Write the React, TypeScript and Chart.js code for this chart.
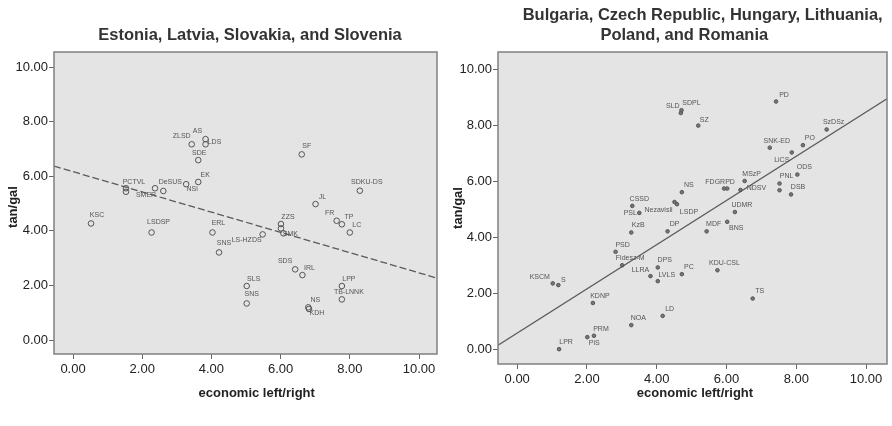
import React, { useEffect, useRef } from "react";
import { Chart, registerables } from "chart.js";

Chart.register(...registerables);

// ---------- data ----------
const TICK_VALUES = [0, 2, 4, 6, 8, 10];
const TICK_LABELS = ["0.00", "2.00", "4.00", "6.00", "8.00", "10.00"];

const LEFT_TITLE = ["Estonia, Latvia, Slovakia, and Slovenia"];
const RIGHT_TITLE = ["Bulgaria, Czech Republic, Hungary, Lithuania,", "Poland, and Romania"];
const X_TITLE = "economic left/right";
const Y_TITLE = "tan/gal";

const leftParties = [
  "KSC", "LSDSP", "PCTVL", "", "SMER", "DeSUS", "NSi", "ZLSD", "AS", "LDS", "SDE", "EK",
  "ERL", "SNS", "LS-HZDS", "ZZS", "", "SMK", "SF", "JL", "SDKU-DS", "FR", "TP", "LC",
  "SDS", "IRL", "SLS", "SNS", "NS", "KDH", "LPP", "TB-LNNK",
];
const leftX = [
  0.52, 2.27, 1.53, 1.53, 2.37, 2.61, 3.27, 3.43, 3.83, 3.83, 3.62, 3.62,
  4.03, 4.22, 5.48, 6.01, 6.01, 6.08, 6.61, 7.01, 8.29, 7.62, 7.77, 8.0,
  6.42, 6.63, 5.02, 5.02, 6.8, 6.82, 7.77, 7.77,
];
const leftY = [
  4.27, 3.94, 5.56, 5.43, 5.56, 5.46, 5.71, 7.17, 7.36, 7.17, 6.59, 5.79,
  3.94, 3.21, 3.87, 4.25, 4.09, 3.91, 6.8, 4.98, 5.47, 4.37, 4.24, 3.94,
  2.59, 2.38, 1.98, 1.34, 1.2, 1.14, 1.98, 1.49,
];
const leftFitX = [-0.55, 10.52];
const leftFitY = [6.37, 2.27];

const rightParties = [
  "SLD", "SDPL", "SZ", "PD", "SzDSz", "SNK-ED", "PO", "LiCS", "ODS", "PNL", "", "DSB",
  "MSzP", "NDSV", "FDGRPD", "", "NS", "Nezavisli", "LSDP", "CSSD", "PSL", "UDMR", "MDF", "BNS",
  "DP", "KzB", "PSD", "Fidesz-M", "DPS", "LLRA", "LVLS", "KSCM", "S", "KDNP", "NOA", "LD",
  "PRM", "PiS", "LPR", "KDU-CSL", "PC", "TS",
];
const rightX = [
  4.69, 4.71, 5.19, 7.42, 8.87, 7.24, 8.19, 7.87, 8.03, 7.52, 7.52, 7.85,
  6.52, 6.4, 5.93, 6.02, 4.72, 4.51, 4.58, 3.3, 3.5, 6.24, 5.43, 6.02,
  4.31, 3.27, 2.82, 3.01, 4.03, 3.82, 4.03, 1.02, 1.18, 2.17, 3.27, 4.17,
  2.2, 2.01, 1.2, 5.74, 4.72, 6.75,
];
const rightY = [
  8.45, 8.55, 8.0, 8.86, 7.86, 7.21, 7.3, 7.04, 6.25, 5.93, 5.69, 5.54,
  6.02, 5.7, 5.75, 5.75, 5.62, 5.27, 5.19, 5.13, 4.88, 4.91, 4.22, 4.56,
  4.22, 4.18, 3.49, 3.01, 2.93, 2.62, 2.44, 2.36, 2.3, 1.66, 0.87, 1.2,
  0.49, 0.44, 0.01, 2.83, 2.69, 1.82,
];
const rightFitX = [-0.55, 10.6];
const rightFitY = [0.15, 8.96];

// ---------- label placement (px, relative to marker) ----------
const DEFAULT_NUDGE: [number, number] = [7, -7];
const LEFT_NUDGE: Record<string, [number, number]> = {
  KSC: [6, -8], LSDSP: [7, -10], PCTVL: [8, -6], SMER: [-9, 7], DeSUS: [7, -9], NSi: [6, 5],
  ZLSD: [-10, -8], AS: [-8, -8], LDS: [9, -2], SDE: [1, -7], ERL: [6, -9], SNS: [5, -9],
  "LS-HZDS": [-16, 6], SMK: [7, 1], SF: [5, -8], "SDKU-DS": [7, -9], FR: [-7, -8],
  SDS: [-10, -8], KDH: [8, 4],
};
const RIGHT_NUDGE: Record<string, [number, number]> = {
  SLD: [-8, -7], SDPL: [10, -7], SZ: [6, -6], PD: [8, -6], LiCS: [-10, 8], NDSV: [16, -2],
  FDGRPD: [-4, -6], Nezavisli: [-16, 8], LSDP: [12, 8], PSL: [-9, 0], BNS: [9, 6],
  "Fidesz-M": [8, -7], LLRA: [-10, -6], LVLS: [9, -6], KSCM: [-13, -6], S: [5, -5], PiS: [7, 6],
};

const FONT = '"Liberation Sans", Arial, Helvetica, sans-serif';

type PanelCfg = {
  parties: string[];
  xs: number[];
  ys: number[];
  fitX: number[];
  fitY: number[];
  nudge: Record<string, [number, number]>;
  xRange: [number, number];
  yRange: [number, number];
  padding: { top: number; right: number; left: number; bottom: number };
  yWidth: number;
  xHeight: number;
  title: string[];
  titlePos: [number, number][];
  xTitlePos: [number, number];
  yTitlePos: [number, number];
  dashed: boolean;
  markerRadius: number;
  markerFill: string;
};

function makeConfig(p: PanelCfg): any {
  const decor = {
    id: "decor",
    beforeDraw(chart: any) {
      const { ctx, chartArea: a } = chart;
      ctx.save();
      ctx.fillStyle = "#e4e4e4";
      ctx.fillRect(a.left, a.top, a.right - a.left, a.bottom - a.top);
      ctx.restore();
    },
    afterDatasetsDraw(chart: any) {
      const { ctx } = chart;
      const sx = chart.scales.x;
      const sy = chart.scales.y;
      ctx.save();
      ctx.font = `7px ${FONT}`;
      ctx.fillStyle = "#555";
      ctx.textAlign = "center";
      ctx.textBaseline = "middle";
      p.parties.forEach((name, i) => {
        if (!name) return;
        const [dx, dy] = p.nudge[name] ?? DEFAULT_NUDGE;
        ctx.fillText(name, sx.getPixelForValue(p.xs[i]) + dx, sy.getPixelForValue(p.ys[i]) + dy);
      });
      ctx.restore();
    },
    afterDraw(chart: any) {
      const { ctx, chartArea: a } = chart;
      ctx.save();
      ctx.strokeStyle = "#808080";
      ctx.lineWidth = 1.5;
      ctx.strokeRect(a.left, a.top, a.right - a.left, a.bottom - a.top);
      ctx.fillStyle = "#333";
      ctx.textAlign = "center";
      ctx.textBaseline = "middle";
      ctx.font = `bold 16.5px ${FONT}`;
      p.title.forEach((t, i) => ctx.fillText(t, p.titlePos[i][0], p.titlePos[i][1]));
      ctx.fillStyle = "#222";
      ctx.font = `bold 13px ${FONT}`;
      ctx.fillText(X_TITLE, p.xTitlePos[0], p.xTitlePos[1]);
      ctx.translate(p.yTitlePos[0], p.yTitlePos[1]);
      ctx.rotate(-Math.PI / 2);
      ctx.fillText(Y_TITLE, 0, 0);
      ctx.restore();
    },
  };

  const tickCb = (v: number) => {
    const i = TICK_VALUES.indexOf(Math.round(v * 100) / 100);
    return i >= 0 ? TICK_LABELS[i] : "";
  };

  const axisCommon = {
    type: "linear",
    grid: { drawOnChartArea: false, drawTicks: true, tickLength: 5, color: "#666", lineWidth: 1 },
    border: { display: false },
  };

  return {
    type: "scatter",
    data: {
      datasets: [
        {
          type: "line",
          data: p.fitX.map((x, i) => ({ x, y: p.fitY[i] })),
          borderColor: "#5a5a5a",
          borderWidth: 1.3,
          borderDash: p.dashed ? [7, 3] : [],
          pointRadius: 0,
          fill: false,
        },
        {
          data: p.xs.map((x, i) => ({ x, y: p.ys[i] })),
          pointRadius: p.markerRadius,
          pointBorderWidth: 1,
          borderColor: "#555",
          backgroundColor: p.markerFill,
          pointBackgroundColor: p.markerFill,
          pointBorderColor: "#555",
        },
      ],
    },
    options: {
      animation: false,
      responsive: false,
      devicePixelRatio: 1,
      layout: { padding: p.padding },
      plugins: { legend: { display: false }, title: { display: false }, tooltip: { enabled: false } },
      scales: {
        x: {
          ...axisCommon,
          min: p.xRange[0],
          max: p.xRange[1],
          afterFit: (s: any) => {
            s.height = p.xHeight;
          },
          afterBuildTicks: (s: any) => {
            s.ticks = TICK_VALUES.map((v) => ({ value: v }));
          },
          ticks: {
            includeBounds: false,
            padding: 3,
            maxRotation: 0,
            autoSkip: false,
            color: "#222",
            font: { family: FONT, size: 13 },
            callback: tickCb,
          },
        },
        y: {
          ...axisCommon,
          min: p.yRange[0],
          max: p.yRange[1],
          afterFit: (s: any) => {
            s.width = p.yWidth;
          },
          afterBuildTicks: (s: any) => {
            s.ticks = TICK_VALUES.map((v) => ({ value: v }));
          },
          ticks: {
            includeBounds: false,
            padding: 1,
            autoSkip: false,
            color: "#222",
            font: { family: FONT, size: 13 },
            callback: tickCb,
          },
        },
      },
    },
    plugins: [decor],
  };
}

const LEFT_PANEL: PanelCfg = {
  parties: leftParties,
  xs: leftX,
  ys: leftY,
  fitX: leftFitX,
  fitY: leftFitY,
  nudge: LEFT_NUDGE,
  xRange: [-0.55, 10.52],
  yRange: [-0.51, 10.55],
  padding: { top: 52, right: 9, left: 0, bottom: 0 },
  yWidth: 54,
  xHeight: 72,
  title: LEFT_TITLE,
  titlePos: [[250, 35]],
  xTitlePos: [256.7, 393],
  yTitlePos: [13, 207],
  dashed: true,
  markerRadius: 2.8,
  markerFill: "rgba(0,0,0,0)",
};

const RIGHT_PANEL: PanelCfg = {
  parties: rightParties,
  xs: rightX,
  ys: rightY,
  fitX: rightFitX,
  fitY: rightFitY,
  nudge: RIGHT_NUDGE,
  xRange: [-0.55, 10.6],
  yRange: [-0.52, 10.63],
  padding: { top: 52, right: 3, left: 0, bottom: 0 },
  yWidth: 52,
  xHeight: 62,
  title: RIGHT_TITLE,
  titlePos: [
    [256.7, 15],
    [238.3, 35],
  ],
  xTitlePos: [249, 393],
  yTitlePos: [12, 208],
  dashed: false,
  markerRadius: 1.8,
  markerFill: "#777",
};

function Panel({ cfg }: { cfg: PanelCfg }) {
  const ref = useRef<HTMLCanvasElement | null>(null);
  useEffect(() => {
    if (!ref.current) return;
    const chart = new Chart(ref.current, makeConfig(cfg));
    return () => chart.destroy();
  }, [cfg]);
  return <canvas ref={ref} width={446} height={426} style={{ display: "block", width: 446, height: 426 }} />;
}

export default function App() {
  return (
    <div
      style={{
        position: "absolute",
        left: 0,
        top: 0,
        width: 892,
        height: 426,
        display: "flex",
        background: "#fff",
      }}
    >
      <Panel cfg={LEFT_PANEL} />
      <Panel cfg={RIGHT_PANEL} />
    </div>
  );
}
